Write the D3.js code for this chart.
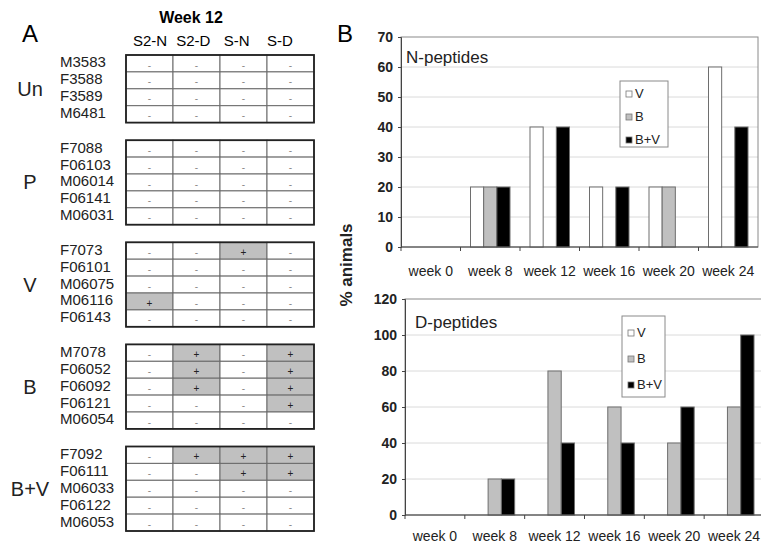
<!DOCTYPE html>
<html>
<head>
<meta charset="utf-8">
<script src="https://cdn.jsdelivr.net/npm/d3@7"></script>
<style>
  body { margin: 0; background: #fff; }
  svg { display: block; font-family: "Liberation Sans", Arial, sans-serif; }
</style>
</head>
<body>
<svg id="fig" width="761" height="549"></svg>
<script>
// ---- panel A: week 12 responses per animal ----
const columns = ['S2-N', 'S2-D', 'S-N', 'S-D']
const groups = ['Un', 'P', 'V', 'B', 'B+V']
const animals = [
  ['M3583', 'F3588', 'F3589', 'M6481'],
  ['F7088', 'F06103', 'M06014', 'F06141', 'M06031'],
  ['F7073', 'F06101', 'M06075', 'M06116', 'F06143'],
  ['M7078', 'F06052', 'F06092', 'F06121', 'M06054'],
  ['F7092', 'F06111', 'M06033', 'F06122', 'M06053']
]
// one string per animal, one char per column
const results = [
  ['----', '----', '----', '----'],
  ['----', '----', '----', '----', '----'],
  ['--+-', '----', '----', '+---', '----'],
  ['-+-+', '-+-+', '-+-+', '---+', '----'],
  ['-+++', '--++', '----', '----', '----']
]

// ---- panel B: % animals responding ----
const weeks = ['week 0', 'week 8', 'week 12', 'week 16', 'week 20', 'week 24']
const series = ['V', 'B', 'B+V']
const nV = [0, 20, 40, 20, 20, 60]
const nB = [0, 20, 0, 0, 20, 0]
const nBV = [0, 20, 40, 20, 0, 40]
const dV = [0, 0, 0, 0, 0, 0]
const dB = [0, 20, 80, 60, 40, 60]
const dBV = [0, 20, 40, 40, 60, 100]

const seriesFill = { 'V': '#ffffff', 'B': '#c0c0c0', 'B+V': '#000000' }

const svg = d3.select('#fig')

// panel letters
svg.append('text').attr('x', 22).attr('y', 42).style('font-size', '24px').text('A')
svg.append('text').attr('x', 337).attr('y', 42).style('font-size', '24px').text('B')

// ---------------- panel A ----------------
const rowH = 16.9
const groupGap = 17.6
const tableTop = 55
const x = d3.scaleBand().domain(columns).range([126, 314])
const hx = d3.scalePoint().domain(columns).range([150, 280])
const rowY = d3.scaleLinear().domain([0, 1]).range([tableTop, tableTop + rowH])

svg.append('text')
  .attr('x', 191).attr('y', 23)
  .attr('text-anchor', 'middle')
  .style('font-size', '16px').style('font-weight', 'bold')
  .text('Week 12')

svg.selectAll('.colhead')
  .data(columns)
  .enter().append('text')
  .attr('class', 'colhead')
  .attr('x', d => hx(d))
  .attr('y', 46)
  .attr('text-anchor', 'middle')
  .style('font-size', '15px')
  .text(d => d)

const tableA = svg.append('g')
let rowIndex = 0
groups.forEach((grp, gi) => {
  const start = rowIndex
  const top = rowY(start) + gi * groupGap
  const n = animals[gi].length
  const bottom = rowY(start + n) + gi * groupGap
  const g = tableA.append('g')

  const rows = animals[gi].map((name, j) => ({
    name,
    res: results[gi][j],
    y: rowY(start + j) + gi * groupGap
  }))

  // cells
  rows.forEach(r => {
    columns.forEach((c, ci) => {
      const pos = r.res[ci] === '+'
      g.append('rect')
        .attr('x', x(c)).attr('y', r.y)
        .attr('width', x.bandwidth()).attr('height', rowH)
        .style('fill', pos ? '#c0c0c0' : '#fff')
        .style('stroke', '#6a6a6a')
        .style('stroke-width', 1)
      g.append('text')
        .attr('x', x(c) + x.bandwidth() / 2)
        .attr('y', r.y + 13.5)
        .attr('text-anchor', 'middle')
        .style('font-size', '10px')
        .style('fill', pos ? '#222' : '#888')
        .text(pos ? '+' : '-')
    })
    g.append('text')
      .attr('x', 60).attr('y', r.y + rowH / 2 + 4)
      .style('font-size', '15px')
      .style('fill', '#222')
      .text(r.name)
  })

  // outer border
  g.append('rect')
    .attr('x', x.range()[0]).attr('y', top)
    .attr('width', x.range()[1] - x.range()[0]).attr('height', bottom - top)
    .style('fill', 'none')
    .style('stroke', '#222')
    .style('stroke-width', 1.8)

  g.append('text')
    .attr('x', 30).attr('y', (top + bottom) / 2 + 7)
    .attr('text-anchor', 'middle')
    .style('font-size', '20px')
    .style('fill', '#222')
    .text(grp)

  rowIndex += n
})

// ---------------- panel B ----------------
function drawBars(opt) {
  const { left, right, top, bottom, max, step, data, title, titlePos, legend, labelY } = opt
  const g = svg.append('g')
  const xb = d3.scaleBand().domain(weeks).range([left, right])
  const xs = d3.scaleBand().domain(series).range([10, xb.bandwidth() - 10])
  const y = d3.scaleLinear().domain([0, max]).range([bottom, top])
  const ticks = d3.range(0, max + step, step)

  // gridlines
  g.selectAll('.grid')
    .data(ticks.filter(t => t > 0 && t < max))
    .enter().append('line')
    .attr('x1', left).attr('x2', right)
    .attr('y1', d => y(d)).attr('y2', d => y(d))
    .style('stroke', '#dadada')

  // frame
  g.append('rect')
    .attr('x', left).attr('y', top)
    .attr('width', right - left).attr('height', bottom - top)
    .style('fill', 'none')
    .style('stroke', '#8a8a8a')

  // bars
  series.forEach((s, si) => {
    g.selectAll('.bar-' + si)
      .data(data[si].map((v, i) => ({ v, wk: weeks[i] })).filter(d => d.v > 0))
      .enter().append('rect')
      .attr('x', d => xb(d.wk) + xs(s))
      .attr('y', d => y(d.v))
      .attr('width', xs.bandwidth())
      .attr('height', d => bottom - y(d.v))
      .style('fill', seriesFill[s])
      .style('stroke', '#6e6e6e')
      .style('stroke-width', 1)
  })

  // y axis
  const ya = g.append('g')
    .attr('transform', `translate(${left},0)`)
    .call(d3.axisLeft(y).tickValues(ticks).tickSize(3).tickPadding(5))
  ya.select('.domain').style('stroke', '#444')
  ya.selectAll('.tick line').style('stroke', '#444')
  ya.selectAll('.tick text')
    .style('font-size', '14px')
    .style('font-weight', 'bold')
    .style('font-family', '"Liberation Sans", Arial, sans-serif')
    .style('fill', '#222')

  // x axis
  g.append('line')
    .attr('x1', left).attr('x2', right)
    .attr('y1', bottom).attr('y2', bottom)
    .style('stroke', '#444')
  g.selectAll('.xtick')
    .data(weeks)
    .enter().append('line')
    .attr('x1', d => xb(d)).attr('x2', d => xb(d))
    .attr('y1', bottom).attr('y2', bottom + 4)
    .style('stroke', '#444')
  g.selectAll('.xlab')
    .data(weeks)
    .enter().append('text')
    .attr('x', d => xb(d) + xb.bandwidth() / 2)
    .attr('y', labelY)
    .attr('text-anchor', 'middle')
    .style('font-size', '14px')
    .style('fill', '#222')
    .text(d => d)

  // title inside plot
  g.append('text')
    .attr('x', titlePos[0]).attr('y', titlePos[1])
    .style('font-size', '17px')
    .style('fill', '#222')
    .text(title)

  // legend
  const lg = g.append('g')
  lg.append('rect')
    .attr('x', legend.x).attr('y', legend.y)
    .attr('width', legend.w).attr('height', legend.h)
    .style('fill', '#fff')
    .style('stroke', '#8a8a8a')
  const ly = d3.scalePoint().domain(series).range([legend.y + legend.first, legend.y + legend.last])
  series.forEach(s => {
    lg.append('rect')
      .attr('x', legend.x + 6).attr('y', ly(s) - 2)
      .attr('width', 6).attr('height', 6)
      .style('fill', seriesFill[s])
      .style('stroke', '#777')
      .style('stroke-width', 0.8)
    lg.append('text')
      .attr('x', legend.x + 15).attr('y', ly(s) + 5)
      .style('font-size', '13px')
      .style('fill', '#222')
      .text(s)
  })
}

drawBars({
  left: 401, right: 758, top: 37, bottom: 247,
  max: 70, step: 10,
  data: [nV, nB, nBV],
  title: 'N-peptides', titlePos: [406, 63],
  legend: { x: 620, y: 81, w: 48, h: 66, first: 12, last: 58 },
  labelY: 276
})

drawBars({
  left: 405, right: 764, top: 299, bottom: 515,
  max: 120, step: 20,
  data: [dV, dB, dBV],
  title: 'D-peptides', titlePos: [415, 328],
  legend: { x: 622, y: 316, w: 43, h: 81, first: 16, last: 68 },
  labelY: 541
})

// shared y title
svg.append('text')
  .attr('transform', 'translate(352,265) rotate(-90)')
  .attr('text-anchor', 'middle')
  .style('font-size', '17px')
  .style('font-weight', 'bold')
  .style('fill', '#222')
  .text('% animals')
</script>
</body>
</html>
